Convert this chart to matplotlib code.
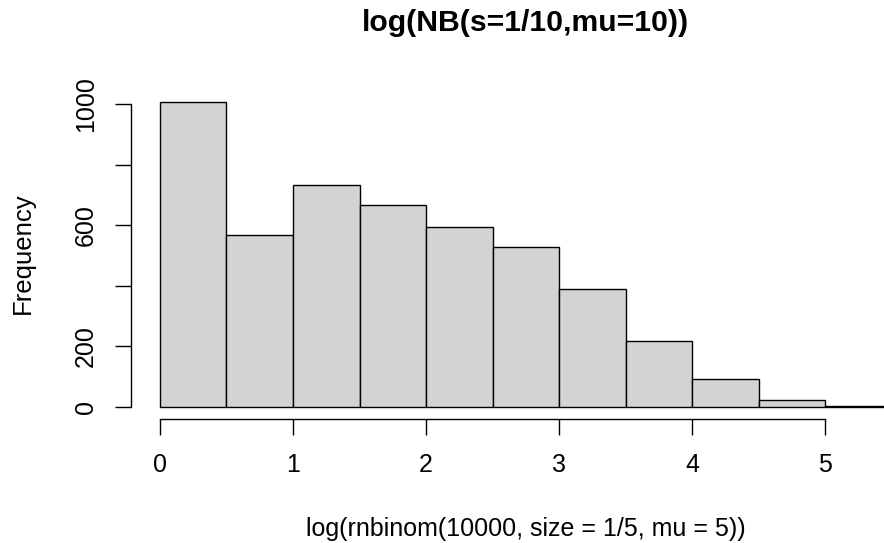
import matplotlib
matplotlib.use("Agg")
import matplotlib.pyplot as plt
import numpy as np

breaks = [0, 0.5, 1, 1.5, 2, 2.5, 3, 3.5, 4, 4.5, 5, 5.5]
counts = [1008, 568, 735, 668, 594, 528, 391, 218, 93, 22, 2]
yticks = [0, 200, 400, 600, 800, 1000]
ytick_labels = ["0", "200", "", "600", "", "1000"]
xticks = [0, 1, 2, 3, 4, 5]

plt.rcParams['font.family'] = ['Liberation Sans', 'DejaVu Sans']

W, H = 884, 543
fig = plt.figure(figsize=(W / 100, H / 100), dpi=100)
left, right, top, bottom = 130.7, 921.0, 89.8, 419.2
ax = fig.add_axes([left / W, 1 - bottom / H, (right - left) / W, (bottom - top) / H])

edges = np.array(breaks)
ax.bar(edges[:-1], counts, width=np.diff(edges), align='edge',
       color='#d3d3d3', edgecolor='black', linewidth=1.0)

xr = breaks[-1] - breaks[0]
ax.set_xlim(breaks[0] - 0.04 * xr, breaks[-1] + 0.04 * xr)
ymax = max(counts)
ax.set_ylim(-0.04 * ymax, ymax * 1.04)

for s in ['top', 'right']:
    ax.spines[s].set_visible(False)
ax.spines['bottom'].set_bounds(xticks[0], xticks[-1])
ax.spines['left'].set_bounds(yticks[0], yticks[-1])
for s in ['bottom', 'left']:
    ax.spines[s].set_linewidth(1.0)

ax.set_xticks(xticks)
ax.set_xticklabels([str(v) for v in xticks])
ax.set_yticks(yticks)
ax.set_yticklabels(ytick_labels, rotation=90, va='center')
ax.tick_params(axis='both', length=11.5, width=1.0, labelsize=18)
ax.tick_params(axis='x', pad=13)
ax.tick_params(axis='y', pad=12)

cx = (left + right) / 2
fig.text(cx / W, 1 - 529 / H, "log(rnbinom(10000, size = 1/5, mu = 5))",
         ha='center', va='center', fontsize=18)
fig.text(23 / W, 1 - 253 / H, "Frequency", rotation=90,
         ha='center', va='center', fontsize=18.5)
fig.text(cx / W, 1 - 23 / H, "log(NB(s=1/10,mu=10))",
         ha='center', va='center', fontsize=21.7, fontweight='bold')

fig.savefig("out.png", dpi=100)
